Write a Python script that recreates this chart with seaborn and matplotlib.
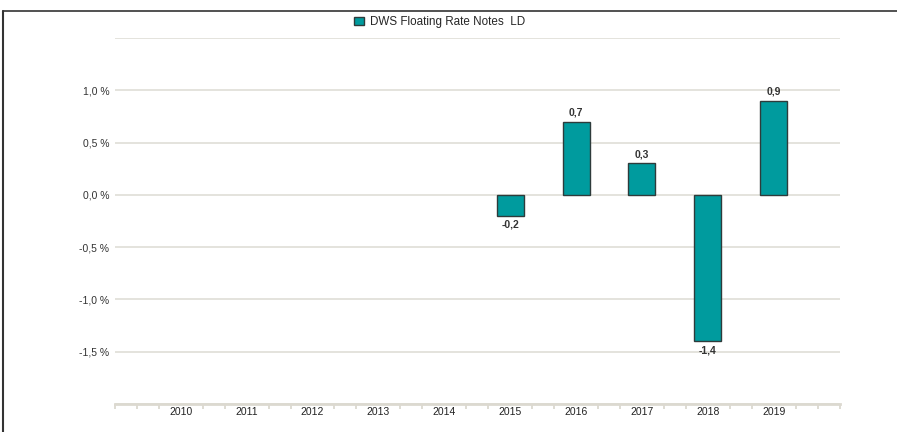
import numpy as np
import pandas as pd
import matplotlib.pyplot as plt
import seaborn as sns
from matplotlib.lines import Line2D
from matplotlib.patches import Patch
from matplotlib.ticker import MultipleLocator

# Data
years = ["2010", "2011", "2012", "2013", "2014", "2015", "2016", "2017", "2018", "2019"]
returns = [np.nan, np.nan, np.nan, np.nan, np.nan, -0.2, 0.7, 0.3, -1.4, 0.9]
series_name = "DWS Floating Rate Notes  LD"

df = pd.DataFrame({"year": years, "ret": returns}).dropna()

sns.set_theme(style="white")
plt.rcParams["font.family"] = ["Liberation Sans", "DejaVu Sans"]

teal = "#009b9e"
grid_col = "#e2e0da"

fig = plt.figure(figsize=(8.97, 4.32), dpi=100)
ax = fig.add_axes([0.128, 0.065, 0.808, 0.847])

sns.barplot(data=df, x="year", y="ret", order=years, color=teal,
            width=0.41, edgecolor="#2e3b3b", linewidth=1.0, saturation=1, ax=ax)

ax.set_xlim(-1, 10)
ax.set_ylim(-2.0, 1.5)

# y axis: grid at every 0.5, labels only from -1.5 to 1.0
yt = np.arange(-2.0, 1.51, 0.5)
ax.set_yticks(yt)
ax.set_yticklabels(["" if (v < -1.75 or v > 1.25) else f"{v:.1f} %".replace(".", ",") for v in yt])
ax.yaxis.grid(True, color=grid_col, linewidth=1.3)
ax.set_axisbelow(True)
ax.tick_params(axis="y", length=0, pad=4, labelsize=7.5, labelcolor="#333333")

# x axis: labels per year, small light ticks every third of a slot
ax.xaxis.set_minor_locator(MultipleLocator(1 / 3))
ax.tick_params(axis="x", which="both", bottom=True)
ax.tick_params(axis="x", which="major", length=0, pad=2, labelsize=7.5, labelcolor="#222222")
ax.tick_params(axis="x", which="minor", length=3.5, width=1.2, color="#d8d5cc", direction="out")
ax.set_xlabel("")
ax.set_ylabel("")

for s in ["top", "right", "left"]:
    ax.spines[s].set_visible(False)
ax.spines["bottom"].set_color("#dcd9d0")
ax.spines["bottom"].set_linewidth(2)

# value labels
for cont in ax.containers:
    labels = [f"{v:.1f}".replace(".", ",") for v in df["ret"]]
    ax.bar_label(cont, labels=labels, padding=3, fontsize=7.5, fontweight="bold", color="#333333")

# legend at top
handle = Patch(facecolor=teal, edgecolor="#2e3b3b", linewidth=1.0)
fig.legend([handle], [series_name], loc="center", bbox_to_anchor=(0.49, 0.949),
           frameon=False, fontsize=8.4, handlelength=0.8, handleheight=0.8, handletextpad=0.5)

# frame lines at top and left
fig.add_artist(Line2D([0.003, 1.0], [0.975, 0.975], color="#333333", linewidth=1.2))
fig.add_artist(Line2D([0.0035, 0.0035], [0.0, 0.975], color="#333333", linewidth=1.5))

fig.savefig("out.png", dpi=100)
